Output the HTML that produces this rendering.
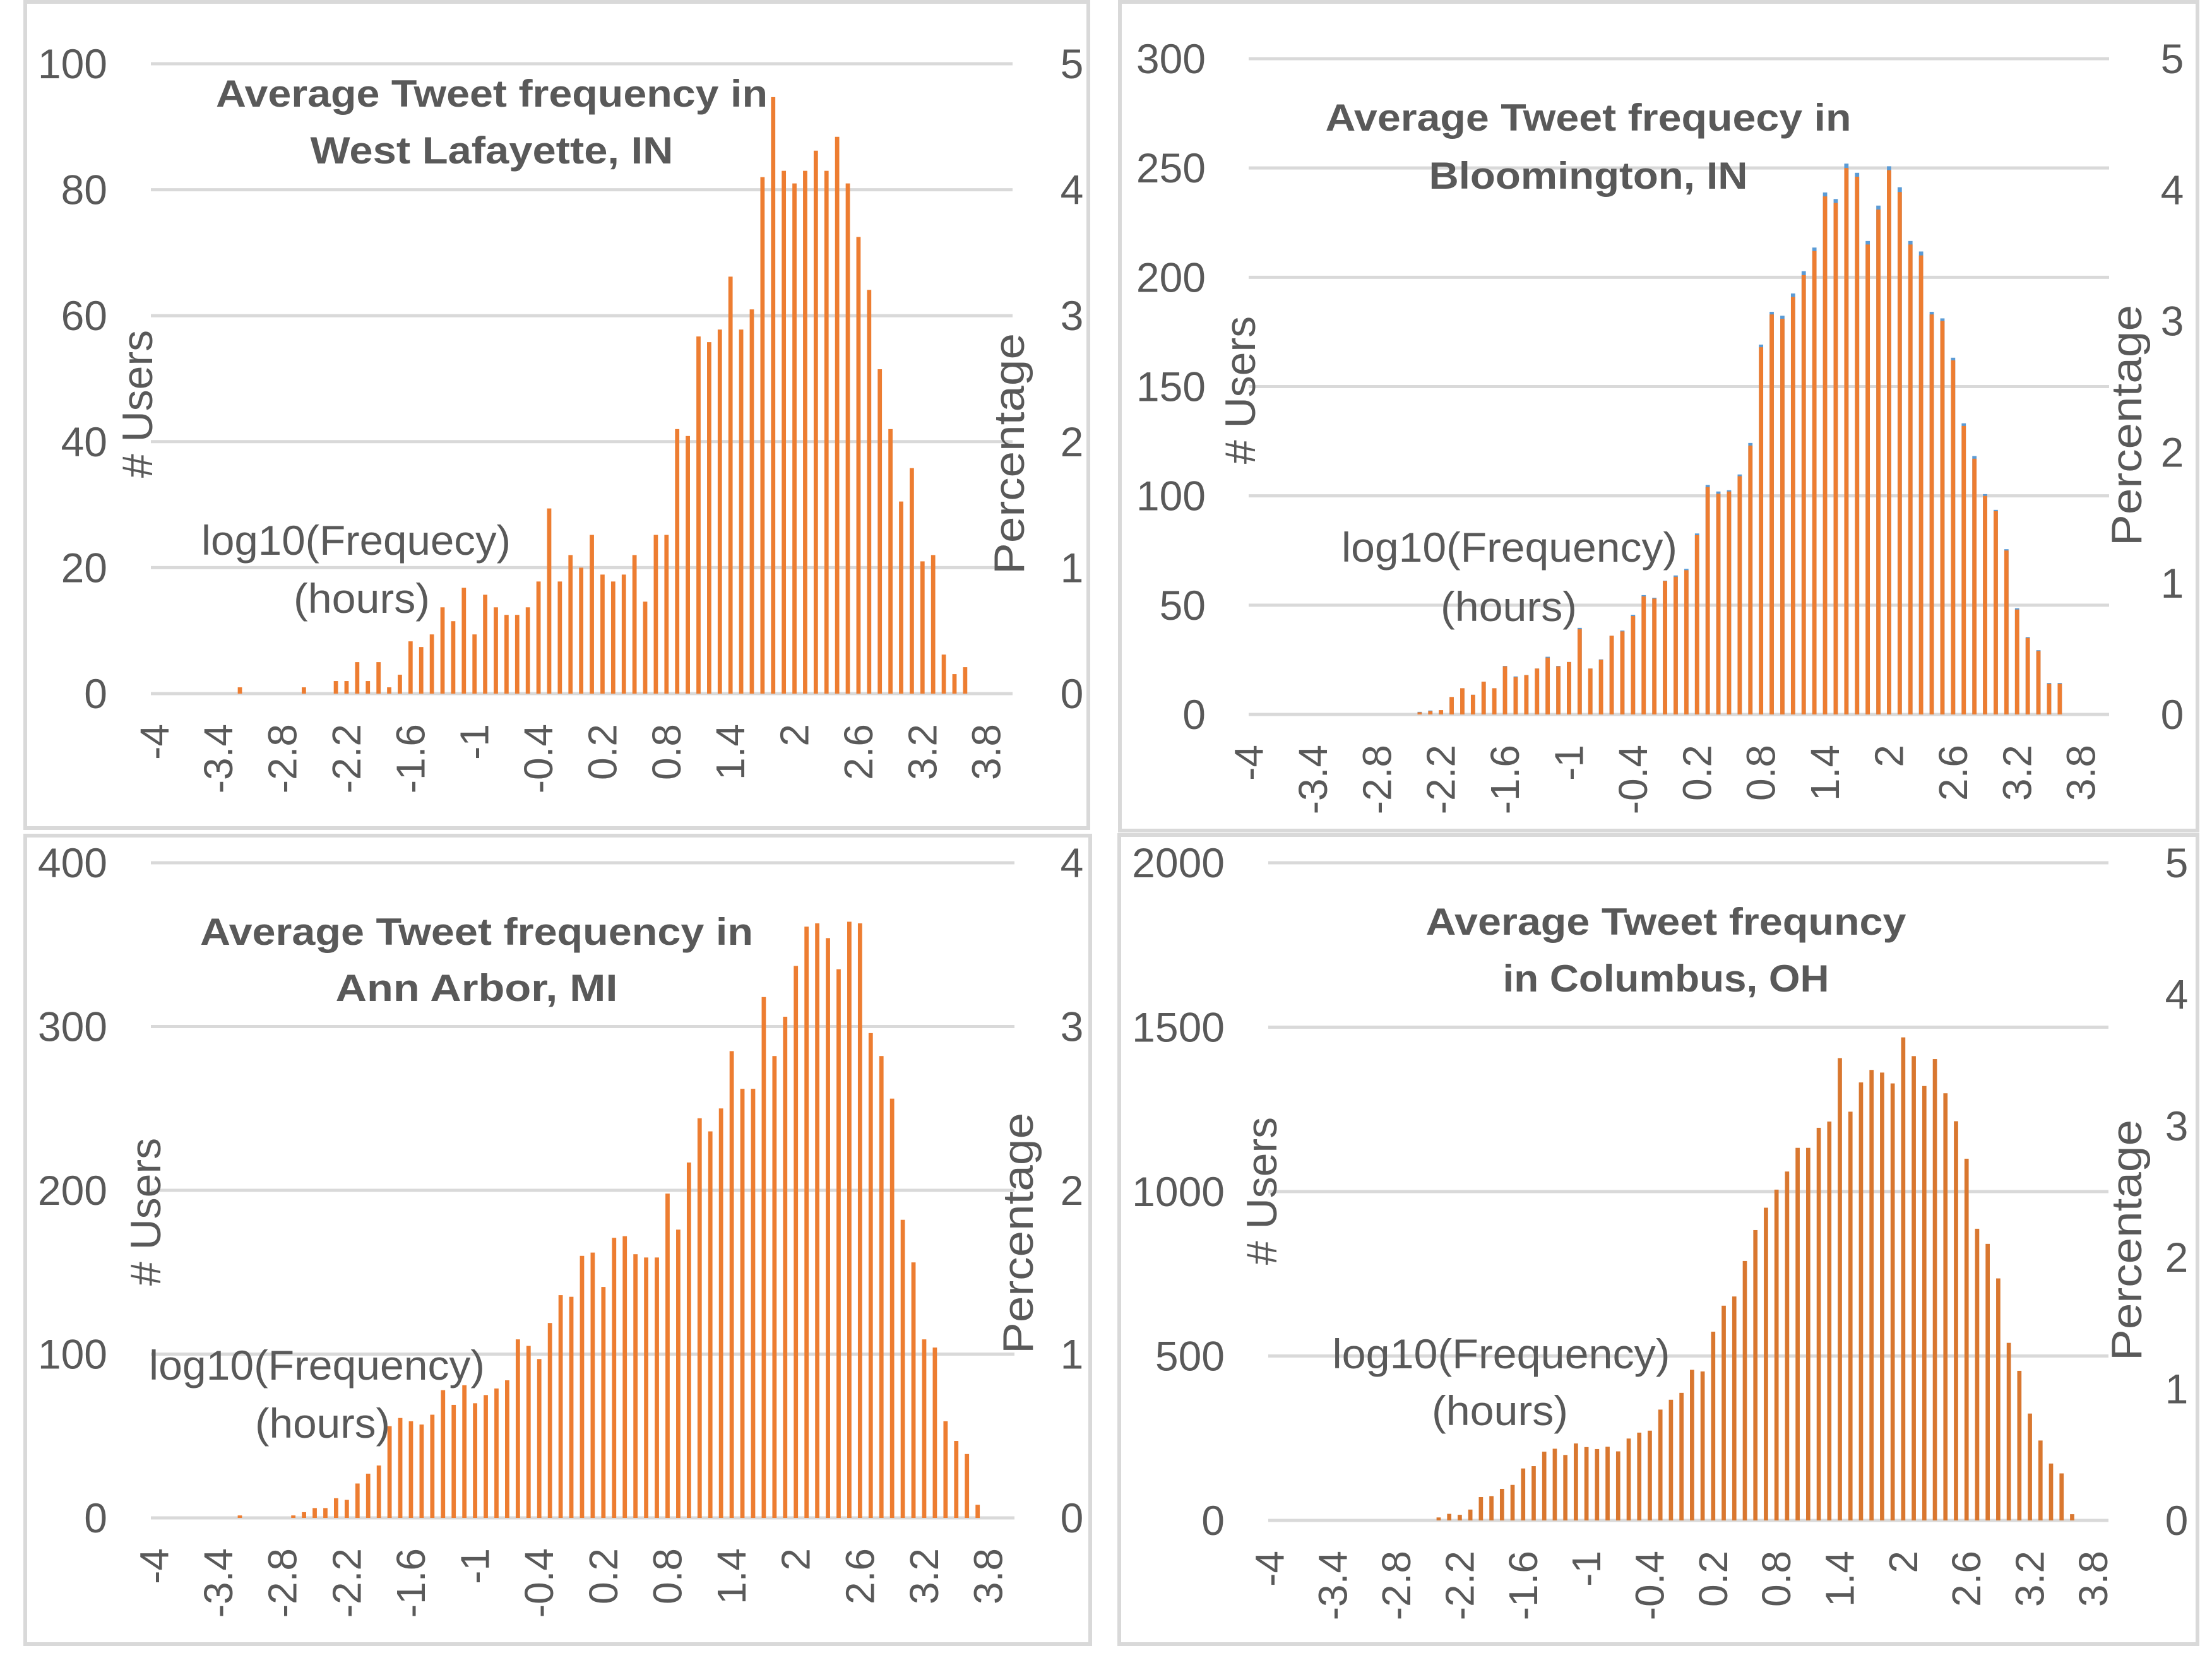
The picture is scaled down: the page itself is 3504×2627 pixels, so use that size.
<!DOCTYPE html>
<html><head><meta charset="utf-8">
<style>
html,body{margin:0;padding:0;background:#fff;}
svg{display:block;}
text{font-family:"Liberation Sans",sans-serif;fill:#595959;}
</style></head>
<body>
<svg id="chart" width="3504" height="2627" viewBox="0 0 3504 2627" xmlns="http://www.w3.org/2000/svg"></svg>
<script>
// categories: log10 bins -4.0 .. 3.9
const categories = [];
for (let k = 0; k < 80; k++) categories.push((-4 + k * 0.1).toFixed(1));
const tickLabels = ["-4","-3.4","-2.8","-2.2","-1.6","-1","-0.4","0.2","0.8","1.4","2","2.6","3.2","3.8"];

// West Lafayette counts (index 0..79)
const westLafayette = [0,0,0,0,0,0,0,0,1,0,0,0,0,0,1,0,0,2,2,5,2,5,1,3,8.3,7.4,9.4,13.7,11.5,16.8,9.4,15.7,13.7,12.5,12.5,13.7,17.8,29.4,17.8,22,20,25.2,18.9,17.8,18.9,22,14.6,25.2,25.2,42,40.9,56.7,55.8,57.8,66.2,57.8,61,82,94.7,83,81,83,86.2,83,88.4,81,72.5,64.1,51.5,42,30.5,35.8,21,22,6.2,3.1,4.2,0,0,0];
// Bloomington counts
const bloomington = [0,0,0,0,0,0,0,0,0,0,0,0,0,0,0,0,1,1.5,2,8,12,9,15,12,22,17,18,21,26,22,24,39,21,25,36,38,45,54,53,61,63,66,82,104,101,102,109,123,168,183,181,191,201,212,237,234,250,246,215,231,249,239,215,210,183,180,162,132,117,100,93,75,48,35,29,14,14,0,0,0];
// Bloomington percentage (right axis)
const bloomingtonPct = [0,0,0,0,0,0,0,0,0,0,0,0,0,0,0,0,0.02,0.03,0.03,0.13,0.2,0.15,0.25,0.2,0.37,0.29,0.3,0.35,0.44,0.37,0.4,0.66,0.35,0.42,0.6,0.64,0.76,0.91,0.89,1.02,1.06,1.11,1.38,1.75,1.7,1.71,1.83,2.07,2.82,3.07,3.04,3.21,3.38,3.56,3.98,3.93,4.2,4.13,3.61,3.88,4.18,4.02,3.61,3.53,3.07,3.02,2.72,2.22,1.97,1.68,1.56,1.26,0.81,0.59,0.49,0.24,0.24,0,0,0];
// Ann Arbor counts
const annArbor = [0,0,0,0,0,0,0,0,1.5,0,0,0,0,1.5,3.5,6,6,12,11,21,27,32,56,61,59,57,63,78,69,81,70,75,79,84,109,105,97,119,136,135,160,162,141,171,172,161,159,159,198,176,217,244,236,250,285,262,262,318,282,306,337,361,363,354,335,364,363,296,282,256,182,156,109,104,59,47,39,8,0,0];
// Columbus counts
const columbus = [0,0,0,0,0,0,0,0,0,0,0,0,0,0,0,0,9,20,17,33,71,74,96,108,158,165,209,218,199,234,223,217,224,210,249,267,273,337,367,388,458,453,574,653,681,789,883,951,1006,1061,1133,1133,1194,1213,1406,1243,1332,1370,1362,1329,1469,1412,1321,1403,1299,1214,1100,887,841,736,540,455,325,243,173,143,19,0,0,0];

const leftTicks1 = [0,20,40,60,80,100];
const leftTicks2 = [0,50,100,150,200,250,300];
const leftTicks3 = [0,100,200,300,400];
const leftTicks4 = [0,500,1000,1500,2000];
const rightTicks5 = [0,1,2,3,4,5];
const rightTicks4 = [0,1,2,3,4];

const svg = document.getElementById('chart');
const NS = 'http://www.w3.org/2000/svg';
function mk(tag, attrs, parent) {
  const e = document.createElementNS(NS, tag);
  for (const k in attrs) e.setAttribute(k, attrs[k]);
  (parent || svg).appendChild(e);
  return e;
}

const panels = [
  {key:'west-lafayette', border:[40,3,1724,1312], x0:239, x1:1604, bx0:236.4, bx1:1588, yTop:101, yZero:1099, max:100, leftTicks:leftTicks1, rmax:5, rightTicks:rightTicks5,
   leftTickX:170, rightTickX:1698, data:westLafayette, pct:null, color:'#ED7D31',
   title:["Average Tweet frequency in","West Lafayette, IN"], titleX:779, titleY:[148,238], titleW:[874,575],
   usersX:218, usersY:640, pctX:1599, pctY:719,
   logText:"log10(Frequecy)", logX:564, logY:856, logW:490, hoursX:573, hoursY:948, hoursW:216},
  {key:'bloomington', border:[1774,3,3481,1316], x0:1978, x1:3341, bx0:1970, bx1:3322, yTop:93, yZero:1132, max:300, leftTicks:leftTicks2, rmax:5, rightTicks:rightTicks5,
   leftTickX:1910, rightTickX:3441, data:bloomington, pct:bloomingtonPct, color:'#ED7D31',
   title:["Average Tweet frequecy in","Bloomington, IN"], titleX:2516, titleY:[186,278], titleW:[833,505],
   usersX:1965, usersY:618, pctX:3369, pctY:674,
   logText:"log10(Frequency)", logX:2391, logY:867, logW:532, hoursX:2390, hoursY:961, hoursW:216},
  {key:'ann-arbor', border:[40,1324,1727,2605], x0:239, x1:1607, bx0:236, bx1:1591, yTop:1367, yZero:2405, max:400, leftTicks:leftTicks3, rmax:4, rightTicks:rightTicks4,
   leftTickX:170, rightTickX:1698, data:annArbor, pct:null, color:'#ED7D31',
   title:["Average Tweet frequency in","Ann Arbor, MI"], titleX:755, titleY:[1476,1565], titleW:[876,447],
   usersX:231, usersY:1920, pctX:1613, pctY:1954,
   logText:"log10(Frequency)", logX:502, logY:2163, logW:532, hoursX:511, hoursY:2255, hoursW:214},
  {key:'columbus', border:[1773,1323,3481,2605], x0:2009, x1:3340, bx0:2003, bx1:3341, yTop:1367, yZero:2409, max:2000, leftTicks:leftTicks4, rmax:5, rightTicks:rightTicks5,
   leftTickX:1940, rightTickX:3448, data:columbus, pct:null, color:'#D9772F',
   title:["Average Tweet frequncy","in Columbus, OH"], titleX:2639, titleY:[1460,1550], titleW:[761,517],
   usersX:1999, usersY:1887, pctX:3369, pctY:1965,
   logText:"log10(Frequency)", logX:2378, logY:2145, logW:535, hoursX:2376, hoursY:2235, hoursW:216}
];

panels.forEach(p => {
  const g = mk('g', {});
  
  
  const b = p.border;
  const border = mk('rect', {x:b[0], y:b[1], width:b[2]-b[0], height:b[3]-b[1], fill:'none', stroke:'#d9d9d9', 'stroke-width':6}, g);
  
  

  const yScale = v => p.yZero - (v / p.max) * (p.yZero - p.yTop);
  const yScaleR = v => p.yZero - (v / p.rmax) * (p.yZero - p.yTop);
  const band = (p.bx1 - p.bx0) / categories.length;
  const xScale = i => p.bx0 + band * (i + 0.5);

  p.leftTicks.forEach(t => {
    const ln = mk('line', {x1:p.x0, x2:p.x1, y1:yScale(t), y2:yScale(t), stroke:'#d9d9d9', 'stroke-width':5}, g);
    
    
    const tx = mk('text', {x:p.leftTickX, y:yScale(t)+23, 'text-anchor':'end', 'font-size':66}, g);
    tx.textContent = t;
    
    
  });
  p.rightTicks.forEach(t => {
    const tx = mk('text', {x:p.rightTickX, y:yScaleR(t)+23, 'text-anchor':'middle', 'font-size':66}, g);
    tx.textContent = t;
    
    
  });

  const bw = band * 0.4;
  if (p.pct) {
    p.pct.forEach((v, i) => {
      if (!v) return;
      const r = mk('rect', {x:xScale(i)-bw/2, y:yScaleR(v), width:bw, height:p.yZero-yScaleR(v), fill:'#5B9BD5'}, g);
      
      
    });
  }
  p.data.forEach((v, i) => {
    if (!v) return;
    const r = mk('rect', {x:xScale(i)-bw/2, y:yScale(v), width:bw, height:p.yZero-yScale(v), fill:p.color}, g);
    
    
  });

  tickLabels.forEach((lab, k) => {
    const i = k * 6;
    const x = xScale(i), y = p.yZero + 48;
    const tx = mk('text', {x:x, y:y, 'text-anchor':'end', 'dominant-baseline':'central', 'font-size':64, transform:'rotate(-90 '+x+' '+y+')'}, g);
    tx.textContent = lab;
    
    
  });

  p.title.forEach((line, k) => {
    const tx = mk('text', {x:p.titleX, y:p.titleY[k]+21, 'text-anchor':'middle', 'font-size':60, 'font-weight':'bold', textLength:p.titleW[k], lengthAdjust:'spacingAndGlyphs'}, g);
    tx.textContent = line;
    
    
  });

  const u = mk('text', {x:p.usersX, y:p.usersY, 'text-anchor':'middle', 'dominant-baseline':'central', 'font-size':68, transform:'rotate(-90 '+p.usersX+' '+p.usersY+')'}, g);
  u.textContent = '# Users';
  
  
  const pc = mk('text', {x:p.pctX, y:p.pctY, 'text-anchor':'middle', 'dominant-baseline':'central', 'font-size':68, textLength:382, lengthAdjust:'spacingAndGlyphs', transform:'rotate(-90 '+p.pctX+' '+p.pctY+')'}, g);
  pc.textContent = 'Percentage';
  
  

  const lt = mk('text', {x:p.logX, y:p.logY+23, 'text-anchor':'middle', 'font-size':66, textLength:p.logW, lengthAdjust:'spacingAndGlyphs'}, g);
  lt.textContent = p.logText;
  
  
  const ht = mk('text', {x:p.hoursX, y:p.hoursY+23, 'text-anchor':'middle', 'font-size':66, textLength:p.hoursW, lengthAdjust:'spacingAndGlyphs'}, g);
  ht.textContent = '(hours)';
  
  
});
</script>
</body></html>
